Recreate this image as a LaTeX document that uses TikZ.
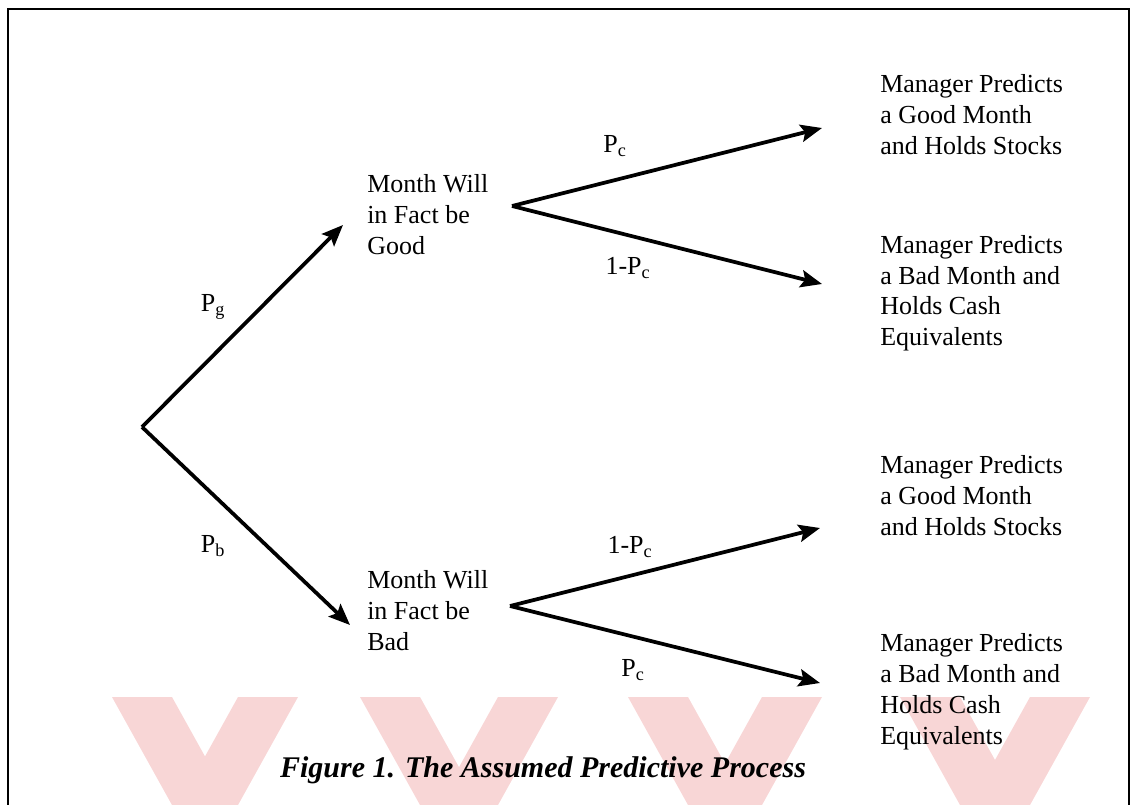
\documentclass[tikz,border=0pt]{standalone}
\usepackage{fontspec}
\setmainfont{Liberation Serif}
\usetikzlibrary{arrows.meta}

\definecolor{stampred}{RGB}{248,214,214}

\tikzset{
  outcome/.style={align=left, anchor=base west, inner sep=0pt,
    font=\fontsize{19.5}{23.25}\selectfont},
  prob/.style={inner sep=0pt, font=\fontsize{19.5}{23.25}\selectfont},
  branch/.style={line width=2.8pt, line join=miter,
    -{Stealth[length=16pt,width=13pt,inset=3pt]}},
  frame/.style={line width=2pt},
  stamp/.style={fill=stampred, draw=none},
}

\begin{document}
\begin{tikzpicture}[x=0.75pt, y=-0.75pt]
   \useasboundingbox (0,0) rectangle (1131,805);

   % faint stamp bands along the bottom edge
   \fill[stamp] (112,697) -- (172,697) -- (232,805) -- (172,805) -- cycle;
   \fill[stamp] (238,697) -- (298,697) -- (238,805) -- (178,805) -- cycle;
   \fill[stamp] (360,697) -- (420,697) -- (480,805) -- (420,805) -- cycle;
   \fill[stamp] (498,697) -- (558,697) -- (498,805) -- (438,805) -- cycle;
   \fill[stamp] (628,697) -- (688,697) -- (748,805) -- (688,805) -- cycle;
   \fill[stamp] (762,697) -- (822,697) -- (762,805) -- (702,805) -- cycle;
   \fill[stamp] (900,697) -- (960,697) -- (1020,805) -- (960,805) -- cycle;
   \fill[stamp] (1030,697) -- (1090,697) -- (1030,805) -- (970,805) -- cycle;

   % open frame round the figure
   \draw[frame] (8,805) -- (8,9) -- (1129,9) -- (1129,805);

   \coordinate (root) at (142,427);

   % base anchor sits on the last line of each block
   \begin{scope}[name prefix = month-]
      \node[outcome] (good) at (367,255) {Month Will\\in Fact be\\Good};
      \node[outcome] (bad) at (367,650) {Month Will\\in Fact be\\Bad};
      \coordinate (good-in) at (343,225);
      \coordinate (bad-in) at (350,625);
      \coordinate (good-fork) at (512,206);
      \coordinate (bad-fork) at (510,606);
   \end{scope}

   \begin{scope}[name prefix = pred-]
      \node[outcome] (gg) at (880,155) {Manager Predicts\\a Good Month\\and Holds Stocks};
      \node[outcome] (gb) at (880,346) {Manager Predicts\\a Bad Month and\\Holds Cash\\Equivalents};
      \node[outcome] (bg) at (880,535) {Manager Predicts\\a Good Month\\and Holds Stocks};
      \node[outcome] (bb) at (880,744) {Manager Predicts\\a Bad Month and\\Holds Cash\\Equivalents};
      \coordinate (gg-in) at (822,128);
      \coordinate (gb-in) at (822,284);
      \coordinate (bg-in) at (820,528);
      \coordinate (bb-in) at (820,683);
   \end{scope}

   \begin{scope}[name prefix = prob-]
      \node[prob] (g) at (213,307) {P\textsubscript{g}};
      \node[prob] (b) at (213,546) {P\textsubscript{b}};
      \node[prob] (gg) at (615,146) {P\textsubscript{c}};
      \node[prob] (gb) at (628,268) {1-P\textsubscript{c}};
      \node[prob] (bg) at (630,547) {1-P\textsubscript{c}};
      \node[prob] (bb) at (633,670) {P\textsubscript{c}};
   \end{scope}

   \begin{scope}
      \draw[branch] (root) -- (month-good-in);
      \draw[branch] (root) -- (month-bad-in);
      \draw[branch] (month-good-fork) -- (pred-gg-in);
      \draw[branch] (month-good-fork) -- (pred-gb-in);
      \draw[branch] (month-bad-fork) -- (pred-bg-in);
      \draw[branch] (month-bad-fork) -- (pred-bb-in);
   \end{scope}

   \node[font=\fontsize{22.5}{27}\selectfont\bfseries\itshape] (caption) at (543,770)
      {Figure 1. The Assumed Predictive Process};
\end{tikzpicture}
\end{document}
